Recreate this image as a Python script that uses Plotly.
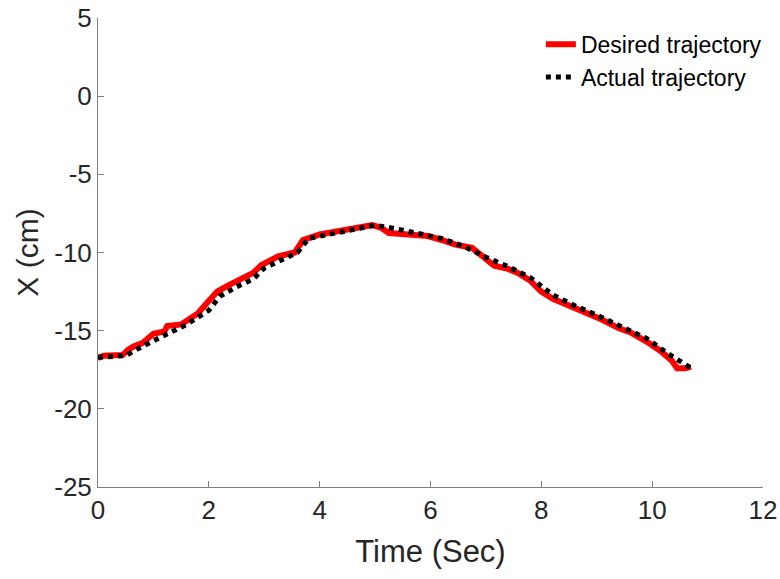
import plotly.graph_objects as go

# Desired trajectory (red)
t_desired = [0, 0.1, 0.45, 0.55, 0.65, 0.8, 0.9, 1.0, 1.2, 1.25, 1.5, 1.7, 1.8, 1.95, 2.05, 2.15,
             2.35, 2.6, 2.8, 2.95, 3.05, 3.25, 3.55, 3.7, 4.0, 4.5, 4.95, 5.1, 5.25, 5.6, 5.95,
             6.2, 6.45, 6.75, 6.95, 7.15, 7.4, 7.6, 7.8, 8.0, 8.2, 8.5, 8.8, 9.1, 9.4, 9.6, 9.9,
             10.15, 10.35, 10.45, 10.6, 10.7]
x_desired = [-16.75, -16.6, -16.55, -16.2, -16.0, -15.8, -15.5, -15.2, -15.05, -14.7, -14.6, -14.1,
             -13.9, -13.3, -12.9, -12.5, -12.1, -11.7, -11.3, -10.8, -10.6, -10.25, -10.0, -9.2,
             -8.85, -8.5, -8.25, -8.4, -8.75, -8.85, -8.95, -9.2, -9.5, -9.7, -10.3, -10.85,
             -11.05, -11.35, -11.8, -12.5, -12.95, -13.4, -13.8, -14.3, -14.85, -15.1, -15.7,
             -16.3, -16.9, -17.4, -17.4, -17.3]

# Actual trajectory (black dotted)
t_actual = [0, 0.3, 0.5, 0.8, 1.2, 1.6, 2.0, 2.2, 2.5, 2.8, 3.0, 3.3, 3.6, 3.8, 4.2, 4.6, 5.0,
            5.4, 5.8, 6.2, 6.6, 7.0, 7.4, 7.8, 8.2, 8.6, 9.0, 9.5, 9.9, 10.3, 10.7]
x_actual = [-16.7, -16.6, -16.6, -16.0, -15.3, -14.6, -13.7, -12.8, -12.2, -11.7, -11.0, -10.5,
            -10.0, -9.1, -8.8, -8.5, -8.25, -8.5, -8.8, -9.1, -9.6, -10.3, -10.9, -11.6, -12.7,
            -13.4, -14.0, -14.8, -15.5, -16.5, -17.4]

x_ticks = [0, 2, 4, 6, 8, 10, 12]
y_ticks = [5, 0, -5, -10, -15, -20, -25]

FONT = "Liberation Sans, Arial"
TXT = "#262626"

fig = go.Figure()
fig.add_trace(go.Scatter(x=t_desired, y=x_desired, mode="lines", name="Desired trajectory",
                         line=dict(color="#ff0000", width=6)))
fig.add_trace(go.Scatter(x=t_actual, y=x_actual, mode="lines", name="Actual trajectory",
                         line=dict(color="#000000", width=5, dash="dot")))

axis_common = dict(showgrid=False, zeroline=False, showline=True, linecolor="#7f7f7f",
                   linewidth=1, ticks="inside", ticklen=6, tickcolor="#7f7f7f",
                   tickfont=dict(family=FONT, size=26, color=TXT),
                   mirror=False, automargin=False, ticklabeloverflow="allow")

fig.update_xaxes(range=[0, 12], tickvals=x_ticks, ticktext=[str(v) for v in x_ticks],
                 title=dict(text="Time (Sec)", font=dict(family=FONT, size=31, color=TXT),
                            standoff=16),
                 **axis_common)
fig.update_yaxes(range=[-25, 5], tickvals=y_ticks, ticktext=[str(v) for v in y_ticks],
                 title=dict(text="X (cm)", font=dict(family=FONT, size=30, color=TXT),
                            standoff=6),
                 **axis_common)

fig.update_layout(
    width=780, height=579,
    margin=dict(l=98, r=17, t=18, b=92, autoexpand=False),
    paper_bgcolor="white", plot_bgcolor="white",
    showlegend=True,
    legend=dict(x=0.666, y=0.99, xanchor="left", yanchor="top",
                font=dict(family=FONT, size=23, color="#000000"),
                bgcolor="rgba(0,0,0,0)", tracegroupgap=0, itemwidth=30),
)

fig.write_html("out.html")
